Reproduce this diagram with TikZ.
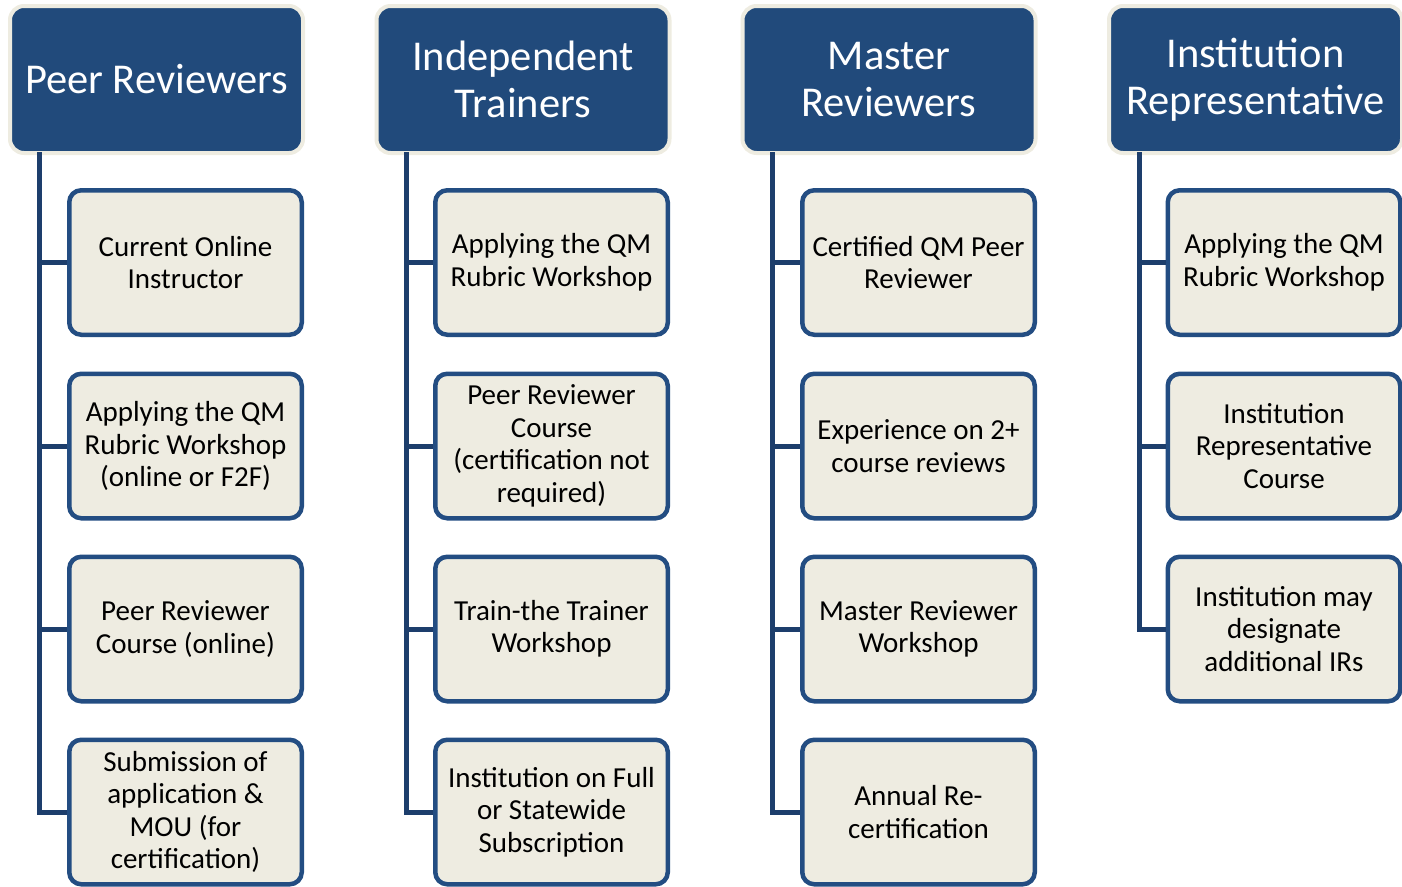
\documentclass[tikz,border=0pt]{standalone}
\usepackage{fontspec}
\setmainfont{Carlito}
\definecolor{hdrblue}{HTML}{214A7B}
\definecolor{beige}{HTML}{EEECE1}
\definecolor{boxline}{HTML}{234D82}
\definecolor{conn}{HTML}{1D3E6C}
\begin{document}
\begin{tikzpicture}[x=1pt,y=-1pt,
  hdr/.style={draw=beige, fill=hdrblue, line width=4, rounded corners=14,
    minimum width=293, minimum height=147, inner sep=0, align=center,
    text=white, font=\fontsize{42.5}{47}\selectfont},
  itembox/.style={draw=boxline, fill=beige, line width=4.5, rounded corners=12,
    minimum width=232.5, minimum height=144.5, inner sep=0, align=center,
    text=black, font=\fontsize{29}{32.5}\selectfont},
  conline/.style={draw=conn, line width=5}]
\useasboundingbox (0,0) rectangle (1402,886);

% headers
\node[hdr] (h1) at (156.5,79.5) {Peer Reviewers};
\node[hdr] (h2) at (523,79.5) {Independent\\Trainers};
\node[hdr] (h3) at (889,79.5) {Master\\Reviewers};
\node[hdr] (h4) at (1255.5,79.5) {Institution\\Representative};

% trunk tops
\coordinate (t1) at (39,152);
\coordinate (t2) at (406,152);
\coordinate (t3) at (772,152);
\coordinate (t4) at (1139,152);

% column 1
\node[itembox] (a1) at (185.5,262.5) {Current Online\\Instructor};
\node[itembox] (a2) at (185.5,446) {Applying the QM\\Rubric Workshop\\(online or F2F)};
\node[itembox] (a3) at (185.5,629) {Peer Reviewer\\Course (online)};
\node[itembox] (a4) at (185.5,812) {Submission of\\application \&\\MOU (for\\certification)};

% column 2
\node[itembox] (b1) at (551.5,262.5) {Applying the QM\\Rubric Workshop};
\node[itembox] (b2) at (551.5,446) {Peer Reviewer\\Course\\(certification not\\required)};
\node[itembox] (b3) at (551.5,629) {Train-the Trainer\\Workshop};
\node[itembox] (b4) at (551.5,812) {Institution on Full\\or Statewide\\Subscription};

% column 3
\node[itembox] (c1) at (918.5,262.5) {Certified QM Peer\\Reviewer};
\node[itembox] (c2) at (918.5,446) {Experience on 2+\\course reviews};
\node[itembox] (c3) at (918.5,629) {Master Reviewer\\Workshop};
\node[itembox] (c4) at (918.5,812) {Annual Re-\\certification};

% column 4
\node[itembox] (d1) at (1284,262.5) {Applying the QM\\Rubric Workshop};
\node[itembox] (d2) at (1284,446) {Institution\\Representative\\Course};
\node[itembox] (d3) at (1284,629) {Institution may\\designate\\additional IRs};

% connectors
\foreach \t/\a/\b/\c/\d in {t1/a1/a2/a3/a4, t2/b1/b2/b3/b4, t3/c1/c2/c3/c4}{
  \draw[conline] (\t) |- (\d.west);
  \draw[conline] (\t |- \a.west) -- (\a.west);
  \draw[conline] (\t |- \b.west) -- (\b.west);
  \draw[conline] (\t |- \c.west) -- (\c.west);
}
\draw[conline] (t4) |- (d3.west);
\draw[conline] (t4 |- d1.west) -- (d1.west);
\draw[conline] (t4 |- d2.west) -- (d2.west);
\end{tikzpicture}
\end{document}
